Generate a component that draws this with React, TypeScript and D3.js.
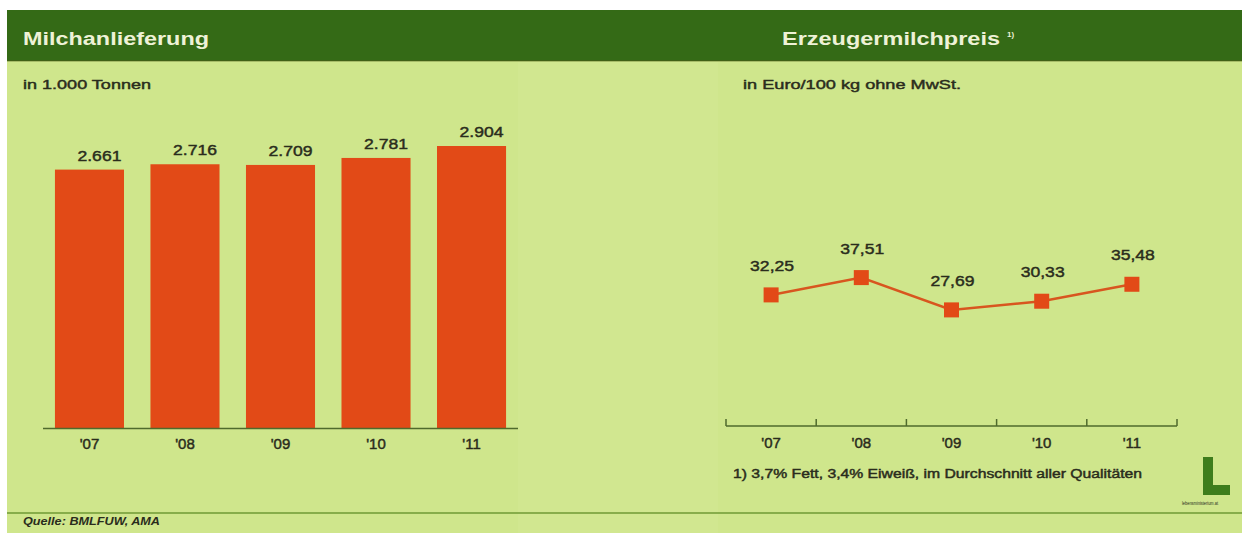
import React from "react";
import * as d3 from "d3";

const years = ["'07", "'08", "'09", "'10", "'11"];
const deliveries = [2661, 2716, 2709, 2781, 2904]; // in 1.000 Tonnen
const prices = [32.25, 37.51, 27.69, 30.33, 35.48]; // Euro/100 kg

const leftTitle = "Milchanlieferung";
const rightTitle = "Erzeugermilchpreis";
const leftUnit = "in 1.000 Tonnen";
const rightUnit = "in Euro/100 kg ohne MwSt.";
const footnote = "1) 3,7% Fett, 3,4% Eiweiß, im Durchschnitt aller Qualitäten";
const source = "Quelle: BMLFUW, AMA";

const W = 1242;
const H = 533;
const FONT = "'Liberation Sans', Arial, Helvetica, sans-serif";
const TEXT = "#2a2c1c";
const HEADER = "#346a16";
const BG = "#cfe68c";
const BAR = "#e24a17";
const LINE = "#d8561f";
const AXIS = "#4f6a2c";

const de = d3.formatLocale({ decimal: ",", thousands: ".", grouping: [3], currency: ["", " €"] });
const fmtInt = de.format(",");
const fmtDec = de.format(",.2f");

const thick = { stroke: TEXT, strokeWidth: 0.45 };

export default function App() {
  // left bar chart
  const xb = d3.scaleBand<string>().domain(years).range([43, 518]).paddingInner(0.277).paddingOuter(0.125);
  const yb = d3.scaleLinear().domain([0, 2904]).range([428, 146]);

  // right line chart
  const xl = d3.scaleBand<string>().domain(years).range([726, 1177]);
  const yl = d3.scaleLinear().domain([0, 40]).range([401, 269.4]);
  const line = d3
    .line<number>()
    .x((_, i) => (xl(years[i]) as number) + xl.bandwidth() / 2)
    .y((d) => yl(d));

  const sq = 15;
  const tickXs = years.map((y) => xl(y) as number).concat([xl.range()[1]]);

  return (
    <svg
      width={W}
      height={H}
      viewBox={`0 0 ${W} ${H}`}
      style={{ position: "absolute", left: 0, top: 0, display: "block" }}
      fontFamily={FONT}
    >
      <rect x={0} y={0} width={W} height={H} fill="#ffffff" />
      {/* body background */}
      <rect x={7} y={61} width={W - 7} height={H - 61} fill={BG} />
      <rect x={518} y={62} width={200} height={H - 62} fill="#d2e892" opacity={0.6} />
      {/* header */}
      <rect x={7} y={10} width={W - 7} height={51} fill={HEADER} />
      <rect x={7} y={60} width={W - 7} height={1.5} fill="#4a5a18" opacity={0.6} />

      <text x={23} y={45} fontSize={18} fontWeight="bold" fill="#eef2d6" textLength={186} lengthAdjust="spacingAndGlyphs">
        {leftTitle}
      </text>
      <text x={782} y={45} fontSize={18} fontWeight="bold" fill="#eef2d6" textLength={218} lengthAdjust="spacingAndGlyphs">
        {rightTitle}
      </text>
      <text x={1007} y={37} fontSize={8} fontWeight="bold" fill="#eef2d6">
        1)
      </text>

      {/* units */}
      <text x={23} y={89} fontSize={13.5} fill={TEXT} {...thick} textLength={128} lengthAdjust="spacingAndGlyphs">
        {leftUnit}
      </text>
      <text x={743} y={89} fontSize={13.5} fill={TEXT} {...thick} textLength={218} lengthAdjust="spacingAndGlyphs">
        {rightUnit}
      </text>

      {/* bars */}
      {deliveries.map((v, i) => {
        const x = xb(years[i]) as number;
        return (
          <g key={years[i]}>
            <rect x={x} y={yb(v)} width={xb.bandwidth()} height={yb(0) - yb(v)} fill={BAR} />
            <text
              x={x + xb.bandwidth() / 2 + 10}
              y={yb(v) - 9}
              fontSize={15.5}
              fill={TEXT}
              {...thick}
              textAnchor="middle"
              textLength={44}
              lengthAdjust="spacingAndGlyphs"
            >
              {fmtInt(v)}
            </text>
            <text x={x + xb.bandwidth() / 2} y={449} fontSize={15} fill={TEXT} {...thick} textAnchor="middle">
              {years[i]}
            </text>
          </g>
        );
      })}
      <line x1={43} x2={518} y1={428.5} y2={428.5} stroke={AXIS} strokeWidth={1.5} />

      {/* line chart */}
      <line x1={tickXs[0]} x2={tickXs[tickXs.length - 1]} y1={426} y2={426} stroke={AXIS} strokeWidth={1.5} />
      {tickXs.map((tx, i) => (
        <line key={i} x1={tx} x2={tx} y1={426} y2={419} stroke={AXIS} strokeWidth={1.5} />
      ))}
      {years.map((y) => (
        <text key={y} x={(xl(y) as number) + xl.bandwidth() / 2} y={448} fontSize={15} fill={TEXT} {...thick} textAnchor="middle">
          {y}
        </text>
      ))}
      <path d={line(prices) || ""} fill="none" stroke={LINE} strokeWidth={2.5} />
      {prices.map((v, i) => {
        const cx = (xl(years[i]) as number) + xl.bandwidth() / 2;
        const cy = yl(v);
        return (
          <g key={i}>
            <rect x={cx - sq / 2} y={cy - sq / 2} width={sq} height={sq} fill={BAR} />
            <text
              x={cx + 1}
              y={cy - 24}
              fontSize={15.5}
              fill={TEXT}
              {...thick}
              textAnchor="middle"
              textLength={44}
              lengthAdjust="spacingAndGlyphs"
            >
              {fmtDec(v)}
            </text>
          </g>
        );
      })}
      <text x={733} y={478} fontSize={12.5} fill={TEXT} {...thick} textLength={409} lengthAdjust="spacingAndGlyphs">
        {footnote}
      </text>

      {/* logo */}
      <rect x={1203} y={457} width={10} height={38} fill="#3e7d1c" />
      <rect x={1203} y={485} width={27} height={10} fill="#3e7d1c" />
      <text x={1200} y={505} fontSize={5} fill={TEXT} textAnchor="middle" textLength={36} lengthAdjust="spacingAndGlyphs">
        lebensministerium.at
      </text>

      {/* bottom rule and source */}
      <line x1={7} x2={W} y1={513} y2={513} stroke="#6f9a34" strokeWidth={1.5} />
      <text x={23} y={525} fontSize={10} fontStyle="italic" fontWeight="bold" fill={TEXT} textLength={137} lengthAdjust="spacingAndGlyphs">
        {source}
      </text>
    </svg>
  );
}
